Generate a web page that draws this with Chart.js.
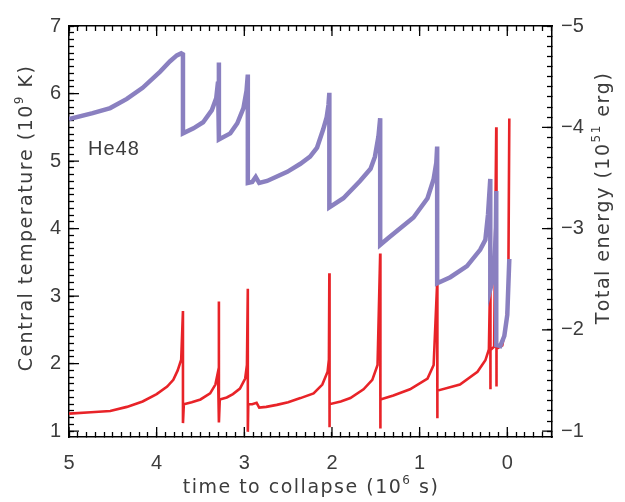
<!DOCTYPE html>
<html>
<head>
<meta charset="utf-8">
<script src="https://cdn.jsdelivr.net/npm/chart.js@4.4.1/dist/chart.umd.min.js"></script>
</head>
<body style="margin:0">
<canvas id="collapse" width="625" height="502"></canvas>
<script>
// time to collapse (1e6 s) and central temperature (1e9 K)
var tempTime = [5.00, 4.75, 4.53, 4.34, 4.16, 4.00, 3.88, 3.81, 3.76, 3.72,
  3.70, 3.70, 3.69,
  3.60, 3.50, 3.39, 3.33, 3.30,
  3.29, 3.29, 3.28,
  3.20, 3.13, 3.05, 2.99, 2.97,
  2.96, 2.96, 2.955,
  2.91, 2.86, 2.83, 2.75, 2.63, 2.50, 2.36, 2.21, 2.11, 2.05, 2.035,
  2.03, 2.03, 2.025,
  1.90, 1.79, 1.64, 1.54, 1.48,
  1.45, 1.45, 1.445,
  1.30, 1.11, 0.91, 0.84,
  0.80, 0.80, 0.795,
  0.54, 0.34, 0.25, 0.21,
  0.194, 0.194, 0.19,
  0.15,
  0.126, 0.126, 0.12,
  0.057, 0.011, -0.011, -0.023];
var tempValue = [1.26, 1.28, 1.30, 1.36, 1.44, 1.55, 1.66, 1.76, 1.90, 2.06,
  2.78, 1.12, 1.40,
  1.43, 1.47, 1.56, 1.69, 1.88,
  2.92, 1.13, 1.47,
  1.50, 1.55, 1.63, 1.78, 1.98,
  3.11, 0.99, 1.40,
  1.40, 1.42, 1.35, 1.36, 1.39, 1.43, 1.49, 1.56, 1.69, 1.88, 2.06,
  3.34, 1.06, 1.40,
  1.44, 1.49, 1.62, 1.76, 1.98,
  3.63, 1.04, 1.47,
  1.53, 1.62, 1.78, 1.98,
  3.20, 1.19, 1.60,
  1.69, 1.88, 2.05, 2.21,
  3.40, 1.62, 2.20,
  2.25,
  5.50, 1.66, 2.22,
  2.27, 2.60, 3.00, 5.63];

// time to collapse (1e6 s) and total energy (1e51 erg)
var energyTime = [5.00, 4.73, 4.53, 4.34, 4.16, 3.96, 3.85, 3.77, 3.72,
  3.70, 3.70,
  3.58, 3.47, 3.37, 3.32, 3.30,
  3.29, 3.29,
  3.16, 3.08, 3.01, 2.975,
  2.96, 2.96,
  2.91, 2.87, 2.83, 2.74, 2.51, 2.36, 2.25, 2.17, 2.10, 2.06, 2.04,
  2.03, 2.03,
  1.87, 1.68, 1.56, 1.51, 1.47,
  1.45, 1.45,
  1.34, 1.07, 0.91, 0.84, 0.81,
  0.80, 0.80,
  0.65, 0.46, 0.31, 0.25, 0.22,
  0.194, 0.194,
  0.15, 0.13,
  0.126, 0.126,
  0.08, 0.034, 0.0, -0.023];
var energyValue = [-4.08, -4.14, -4.19, -4.28, -4.39, -4.55, -4.65, -4.71, -4.73,
  -4.72, -3.94,
  -3.99, -4.05, -4.17, -4.29, -4.45,
  -4.64, -3.88,
  -3.94, -4.04, -4.19, -4.36,
  -4.52, -3.45,
  -3.46, -3.51, -3.45, -3.47, -3.56, -3.64, -3.71, -3.80, -3.98, -4.10, -4.22,
  -4.34, -3.21,
  -3.30, -3.47, -3.59, -3.71, -3.91,
  -4.09, -2.84,
  -2.92, -3.11, -3.30, -3.49, -3.65,
  -3.81, -2.46,
  -2.52, -2.63, -2.79, -2.89, -3.14,
  -3.49, -2.40,
  -2.55, -3.01,
  -3.37, -1.85,
  -1.84, -1.94, -2.15, -2.70];

var timeTicks = [5, 4, 3, 2, 1, 0];
var tempTicks = [1, 2, 3, 4, 5, 6, 7];
var energyTicks = [-5, -4, -3, -2, -1];

var timeMin = -0.51, timeMax = 5;
var tempMin = 0.914, tempMax = 7;
// the energy axis runs alongside the temperature axis: T = 1 -> E = -1, T = 7 -> E = -5
var energyMin = -5;
var energyMax = -1 - (tempMin - 1) * 2 / 3;

var PURPLE = '#8a80c0';
var RED = '#e82328';
var TEXT = '#3c3c3c';
var TICK_FONT = { family: 'Liberation Sans', size: 20 };

function zip(xs, ys) {
  return xs.map(function (x, i) { return { x: x, y: ys[i] }; });
}

// a tick every 0.1 between two whole tenths
function tenths(from, to) {
  return function (scale) {
    var t = [];
    for (var k = from; k <= to; k++) t.push({ value: k / 10 });
    scale.ticks = t;
  };
}

// only the major ticks get a label
function labelsFrom(values, fmt) {
  return function (v) {
    return values.indexOf(v) >= 0 ? (fmt ? fmt(v) : String(v)) : '';
  };
}

// short inward marks from the scale itself, black frame from the axis borders
var innerGrid = {
  display: true,
  drawOnChartArea: false,
  drawTicks: true,
  tickLength: -5,
  tickWidth: 1.3,
  tickColor: '#000',
  color: '#000'
};
var frameBorder = { display: true, color: '#000', width: 1.5 };

// longer marks at the labelled values
var majorTicks = {
  id: 'majorTicks',
  afterDraw: function (chart) {
    var ctx = chart.ctx, a = chart.chartArea;
    var sx = chart.scales.x, st = chart.scales.yTemp, se = chart.scales.yEnergy;
    ctx.save();
    ctx.strokeStyle = '#000';
    ctx.lineWidth = 1.3;
    ctx.beginPath();
    timeTicks.forEach(function (v) {
      var p = sx.getPixelForValue(v);
      ctx.moveTo(p, a.bottom); ctx.lineTo(p, a.bottom - 10);
      ctx.moveTo(p, a.top); ctx.lineTo(p, a.top + 10);
    });
    tempTicks.forEach(function (v) {
      var p = st.getPixelForValue(v);
      ctx.moveTo(a.left, p); ctx.lineTo(a.left + 10, p);
    });
    energyTicks.forEach(function (v) {
      var p = se.getPixelForValue(v);
      ctx.moveTo(a.right, p); ctx.lineTo(a.right - 10, p);
    });
    ctx.stroke();
    ctx.restore();
  }
};

// text with a little extra room between the letters
function spacedWidth(ctx, s, gap) {
  var w = 0;
  for (var i = 0; i < s.length; i++) w += ctx.measureText(s[i]).width + gap;
  return w;
}
function spacedText(ctx, s, x, y, gap) {
  for (var i = 0; i < s.length; i++) {
    ctx.fillText(s[i], x, y);
    x += ctx.measureText(s[i]).width + gap;
  }
  return x;
}

// writes a title with a raised exponent, centred on (0, 0)
function drawTitle(ctx, parts) {
  var main = '19px "DejaVu Sans"', sup = '12px "DejaVu Sans"', gap = 1.5;
  var widths = parts.map(function (p) {
    ctx.font = p[1] ? sup : main;
    return spacedWidth(ctx, p[0], gap);
  });
  var total = widths.reduce(function (a, b) { return a + b; }, 0);
  var x = -total / 2;
  parts.forEach(function (p) {
    ctx.font = p[1] ? sup : main;
    x = spacedText(ctx, p[0], x, p[1] ? -7 : 0, gap);
  });
}

var axisTitles = {
  id: 'axisTitles',
  afterDraw: function (chart) {
    var ctx = chart.ctx;
    ctx.save();
    ctx.fillStyle = TEXT;
    ctx.textBaseline = 'middle';
    ctx.textAlign = 'left';

    ctx.font = '20px "Liberation Sans"';
    spacedText(ctx, 'He48', 88, 149, 1);

    ctx.save();
    ctx.translate(311, 488);
    drawTitle(ctx, [['time to collapse (10', false], ['6', true], [' s)', false]]);
    ctx.restore();

    ctx.save();
    ctx.translate(27, 218);
    ctx.rotate(-Math.PI / 2);
    drawTitle(ctx, [['Central temperature (10', false], ['9', true], [' K)', false]]);
    ctx.restore();

    ctx.save();
    ctx.translate(604, 198);
    ctx.rotate(-Math.PI / 2);
    drawTitle(ctx, [['Total energy (10', false], ['51', true], [' erg)', false]]);
    ctx.restore();

    ctx.restore();
  }
};

new Chart(document.getElementById('collapse'), {
  type: 'line',
  data: {
    datasets: [
      {
        label: 'Total energy',
        data: zip(energyTime, energyValue),
        yAxisID: 'yEnergy',
        borderColor: PURPLE,
        borderWidth: 4.5,
        pointRadius: 0,
        tension: 0,
        fill: false
      },
      {
        label: 'Central temperature',
        data: zip(tempTime, tempValue),
        yAxisID: 'yTemp',
        borderColor: RED,
        borderWidth: 2.6,
        pointRadius: 0,
        tension: 0,
        fill: false
      }
    ]
  },
  options: {
    responsive: false,
    animation: false,
    layout: { padding: { top: 13 } },
    plugins: {
      legend: { display: false },
      tooltip: { enabled: false }
    },
    scales: {
      x: {
        type: 'linear',
        position: 'bottom',
        reverse: true,
        min: timeMin,
        max: timeMax,
        afterBuildTicks: tenths(-5, 50),
        afterFit: function (s) { s.height = 65; },
        grid: innerGrid,
        border: frameBorder,
        ticks: {
          font: TICK_FONT, color: TEXT, padding: 19,
          maxRotation: 0, autoSkip: false,
          callback: labelsFrom(timeTicks)
        }
      },
      xTop: {
        type: 'linear',
        position: 'top',
        reverse: true,
        min: timeMin,
        max: timeMax,
        afterBuildTicks: tenths(-5, 50),
        afterFit: function (s) { s.height = 0; },
        grid: innerGrid,
        border: frameBorder,
        ticks: { display: false }
      },
      yTemp: {
        type: 'linear',
        position: 'left',
        min: tempMin,
        max: tempMax,
        afterBuildTicks: tenths(10, 70),
        afterFit: function (s) { s.width = 69; },
        grid: innerGrid,
        border: frameBorder,
        ticks: {
          font: TICK_FONT, color: TEXT, padding: 13, autoSkip: false,
          callback: labelsFrom(tempTicks)
        }
      },
      yEnergy: {
        type: 'linear',
        position: 'right',
        reverse: true,
        min: energyMin,
        max: energyMax,
        afterBuildTicks: tenths(-50, -10),
        afterFit: function (s) { s.width = 73; },
        grid: innerGrid,
        border: frameBorder,
        ticks: {
          font: TICK_FONT, color: TEXT, padding: 14, autoSkip: false,
          callback: labelsFrom(energyTicks, function (v) { return '\u2212' + Math.abs(v); })
        }
      }
    }
  },
  plugins: [majorTicks, axisTitles]
});
</script>
</body>
</html>
